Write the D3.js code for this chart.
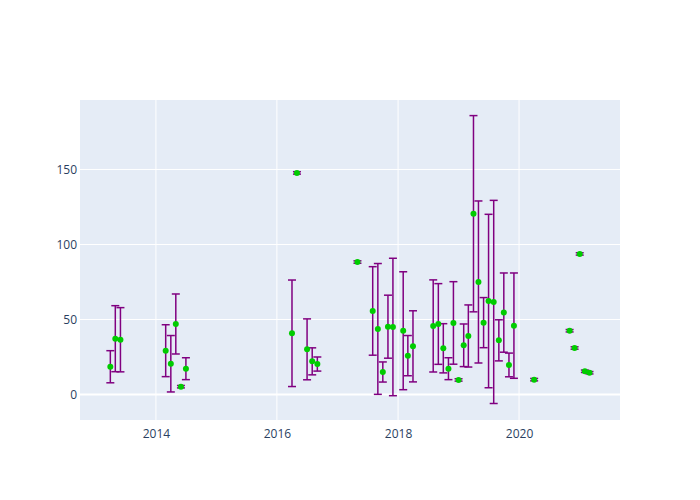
<!DOCTYPE html>
<html><head><meta charset="utf-8">
<script src="https://cdn.jsdelivr.net/npm/d3@7"></script>
<style>body{margin:0;background:#fff}</style>
</head><body>
<svg id="c" width="700" height="500"></svg>
<script>
const dates = ["2013-04","2013-05","2013-06","2014-03","2014-04","2014-05","2014-06","2014-07",
"2016-04","2016-05","2016-07","2016-08","2016-09","2017-05","2017-08","2017-09","2017-10","2017-11","2017-12",
"2018-02","2018-03","2018-04","2018-08","2018-09","2018-10","2018-11","2018-12","2019-01","2019-02","2019-03",
"2019-04","2019-05","2019-06","2019-07","2019-08","2019-09","2019-10","2019-11","2019-12","2020-04",
"2020-11","2020-12","2021-01","2021-02","2021-03"];
const values = [18.5,37.2,36.5,29.2,20.5,47,5.2,17.2,
40.8,147.7,30.1,22.1,20.3,88.3,55.7,43.7,15,45.2,45,
42.5,25.9,32.1,45.7,47,30.8,17.2,47.7,9.7,32.8,39,
120.5,75,47.9,62.3,61.7,36.1,54.6,19.7,45.9,9.9,
42.5,31,93.7,15.5,14.5];
const errors = [10.7,22,21.4,17.3,18.8,20,0.8,7.3,
35.5,0.8,20.3,9,4.7,0.8,29.5,43.6,6.7,21,45.8,
39.3,13.4,23.7,30.7,26.9,16.4,7.3,27.5,0.8,14.2,20.7,
65.4,54,16.7,57.8,67.7,13.7,26.4,7.9,35.1,0.8,
0.8,0.8,0.8,0.8,0.8];
const yTicks = [0,50,100,150];

const parse = d3.timeParse("%Y-%m");
const data = dates.map((d,i)=>({x:parse(d), y:values[i], e:errors[i]}));

const L=80, R=620, T=100, B=420;
const svg = d3.select("#c");
const x = d3.scaleTime().domain([new Date(2012,8,30), new Date(2021,8,1)]).range([L,R]);
const y = d3.scaleLinear().domain([-17,196.3]).range([B,T]);

svg.append("rect").attr("x",L).attr("y",T).attr("width",R-L).attr("height",B-T).attr("fill","#e5ecf6");

const xt = x.ticks(d3.timeYear.every(2));
const g = svg.append("g");
g.selectAll(".vx").data(xt).join("line")
 .attr("x1",d=>x(d)).attr("x2",d=>x(d)).attr("y1",T).attr("y2",B)
 .attr("stroke","#fff").attr("stroke-width",1);
g.selectAll(".hy").data(yTicks).join("line")
 .attr("x1",L).attr("x2",R).attr("y1",d=>y(d)).attr("y2",d=>y(d))
 .attr("stroke","#fff").attr("stroke-width",d=>d===0?2:1);

const xa = svg.append("g").attr("transform",`translate(0,${B})`)
 .call(d3.axisBottom(x).tickValues(xt).tickFormat(d3.timeFormat("%Y")).tickSize(0).tickPadding(9));
const ya = svg.append("g").attr("transform",`translate(${L},0)`)
 .call(d3.axisLeft(y).tickValues(yTicks).tickSize(0).tickPadding(3));
[xa,ya].forEach(a=>{a.select(".domain").remove();
 a.selectAll("text").attr("fill","#2a3f5f").style("font-family","'Open Sans', sans-serif").style("font-size","12px");});

const eb = svg.append("g").attr("stroke","#800080").attr("stroke-width",1.5).attr("fill","none");
data.forEach(d=>{
  const cx=x(d.x), t=y(d.y+d.e), b=y(d.y-d.e);
  eb.append("line").attr("x1",cx).attr("x2",cx).attr("y1",t).attr("y2",b);
  eb.append("line").attr("x1",cx-4).attr("x2",cx+4).attr("y1",t).attr("y2",t);
  eb.append("line").attr("x1",cx-4).attr("x2",cx+4).attr("y1",b).attr("y2",b);
});
svg.append("g").selectAll("circle").data(data).join("circle")
 .attr("cx",d=>x(d.x)).attr("cy",d=>y(d.y)).attr("r",3).attr("fill","#00cc00");
</script>
</body></html>
